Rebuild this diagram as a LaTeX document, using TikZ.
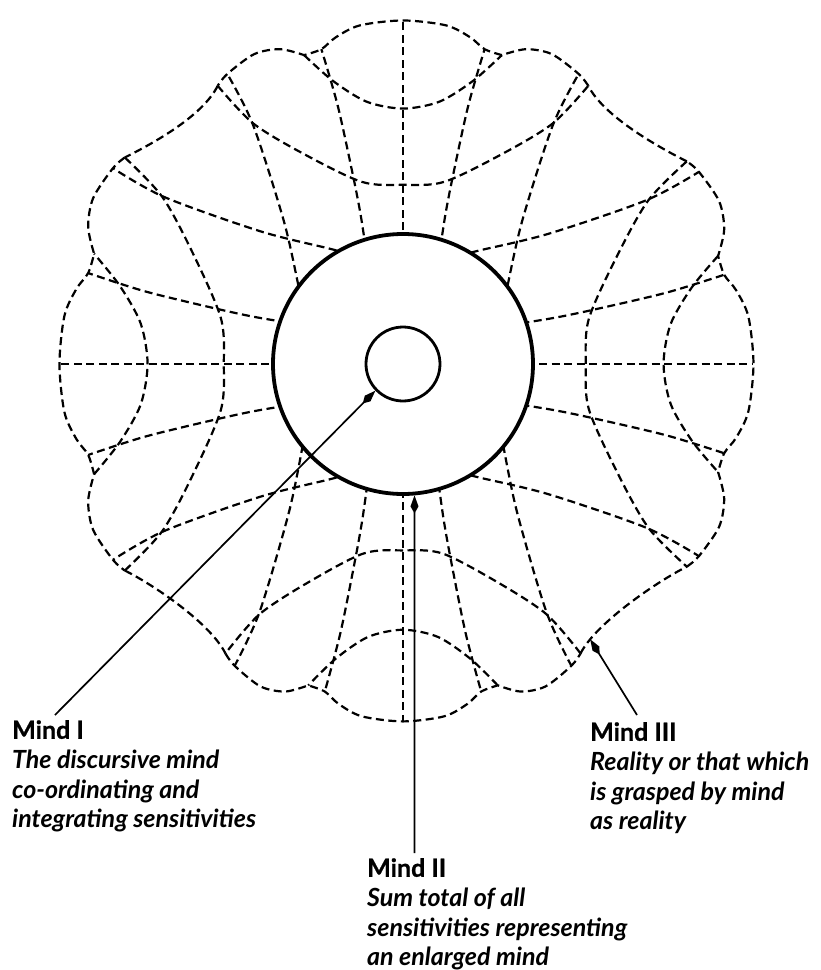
\documentclass[tikz,border=0pt]{standalone}
\usepackage{fontspec}
\setmainfont{Lato}[BoldFeatures={FakeBold=0.8}]
\usetikzlibrary{arrows.meta,calc}

\tikzset{
  trait/.style={line width=2.2pt, dash pattern=on 8pt off 4.5pt},
  fleche/.style={line width=1.7pt, -{Kite[length=18pt,width=8pt,inset=7pt]}},
  legende/.style={font=\bfseries\itshape\fontsize{25}{29.7}\selectfont, align=left, inner sep=0pt, anchor=north west}
}

\begin{document}
\begin{tikzpicture}[line join=round, x=1pt, y=1pt]
\useasboundingbox (-403,-606) rectangle (417,364);
% Eventails
\foreach \ang/\sx/\sy/\i in {0/0.96/0.99/0, 90/1.07/0.99/1, 180/0.92/1.03/2, 270/1.05/1.01/3}{
  \begin{scope}[rotate=\ang, xscale=\sx, yscale=\sy]
    \draw[trait] (0,110) -- (0,347);
    \foreach \s in {-1,1}{
      \begin{scope}[xscale=\s]
        \draw[trait] plot[smooth] coordinates {(-37,105) (-44,150) (-52,190) (-68,261) (-85,318)};
        \draw[trait] plot[smooth] coordinates {(-103,55) (-108,75) (-124,144) (-156,241) (-183,293)};
      \end{scope}
    }
    % arcs
    \draw[trait] plot[smooth] coordinates {(-103,312) (-73,286) (-38,265) (0,258) (38,265) (73,286) (103,312)};
    \draw[trait] plot[smooth] coordinates {(-193,281) (-156,243) (-103,212) (-43,184) (0,181) (43,184) (103,212) (156,243) (193,281)};
    % bord
    \draw[trait] plot[smooth] coordinates {(193,281) (183,293) (155,313) (128,318) (103,312)}
      -- plot[smooth] coordinates {(103,312) (85,318) (70,330) (45,342) (0,347) (-45,342) (-70,330) (-85,318) (-103,312)}
      -- plot[smooth] coordinates {(-103,312) (-128,318) (-155,313) (-183,293) (-193,281)};
    \coordinate (g\i) at (-193,281);
    \coordinate (d\i) at (193,281);
  \end{scope}
}
% Diagonales
\foreach \ang/\i/\j in {0/0/1, 90/1/2, 180/2/3, 270/3/0}{
  \begin{scope}[rotate=\ang]
    \draw[trait] (g\i) .. controls +(-15,-30) and +(30,15) .. (d\j) coordinate[pos=0.15] (diag\i);
  \end{scope}
}
% Cercles
\node[circle, draw, fill=white, line width=3.8pt, minimum size=260pt, inner sep=0pt] (mindII) at (0,0) {};
\node[circle, draw, line width=2.8pt, minimum size=74pt, inner sep=0pt] (mindI) at (0,0) {};
% Legendes
\node[legende] (labI) at (-391,-356) {\upshape Mind I\\The discursive mind\\co-ordinating and\\integrating sensitivities};
\node[legende] (labII) at (-36,-494) {\upshape Mind II\\Sum total of all\\sensitivities representing\\an enlarged mind};
\node[legende] (labIII) at (187,-358) {\upshape Mind III\\Reality or that which\\is grasped by mind\\as reality};
\draw[fleche] ([xshift=43pt,yshift=5pt]labI.north west) -- (mindI.224);
\draw[fleche] ([xshift=47.5pt,yshift=5pt]labII.north west) -- (mindII.-85);
\draw[fleche] ([xshift=47pt,yshift=7pt]labIII.north west) -- (diag2);
\end{tikzpicture}
\end{document}
